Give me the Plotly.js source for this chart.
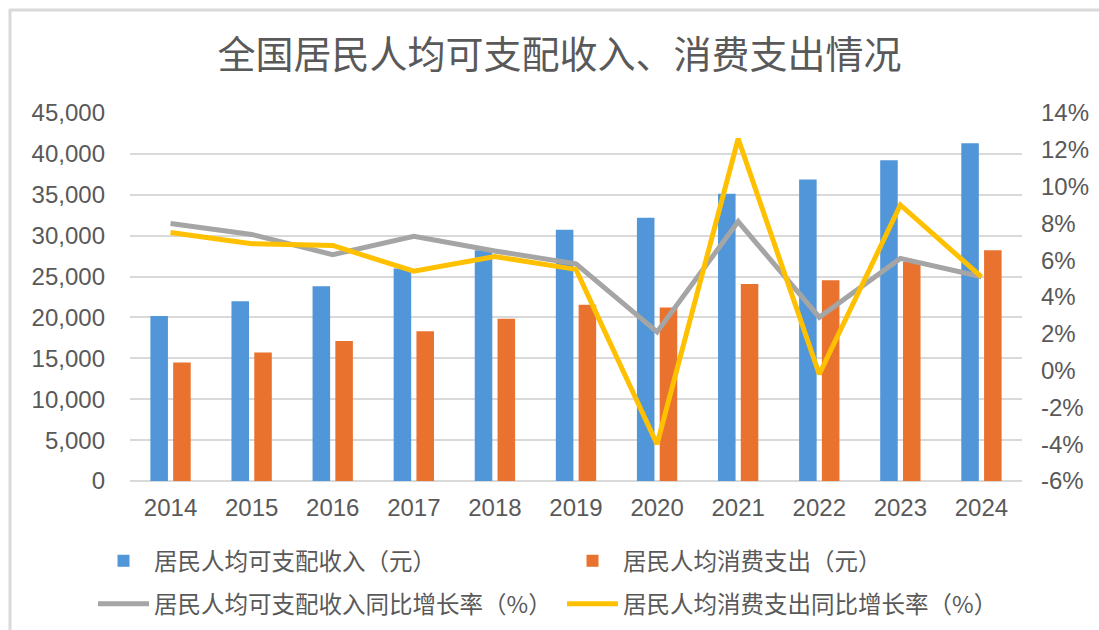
<!DOCTYPE html>
<html>
<head>
<meta charset="utf-8">
<script src="https://cdn.plot.ly/plotly-3.0.1.min.js"></script>
<style>html,body{margin:0;padding:0;background:#fff;}#chart{width:1099px;height:630px;}</style>
</head>
<body>
<div id="chart"></div>
<script>
const years = ['2014','2015','2016','2017','2018','2019','2020','2021','2022','2023','2024'];
const income = [20167, 21966, 23821, 25974, 28228, 30733, 32189, 35128, 36883, 39218, 41314];
const consumption = [14491, 15712, 17111, 18322, 19853, 21559, 21210, 24100, 24538, 26796, 28227];
const incomeGrowth = [8.0, 7.4, 6.3, 7.3, 6.5, 5.8, 2.1, 8.1, 2.9, 6.1, 5.1];
const consumptionGrowth = [7.5, 6.9, 6.8, 5.4, 6.2, 5.5, -4.0, 12.6, -0.2, 9.0, 5.1];
const seriesNames = ['居民人均可支配收入（元）', '居民人均消费支出（元）', '居民人均可支配收入同比增长率（%）', '居民人均消费支出同比增长率（%）'];
const titleText = '全国居民人均可支配收入、消费支出情况';
const y2TickVals = [-6, -4, -2, 0, 2, 4, 6, 8, 10, 12, 14];
const y2TickText = ['-6%', '-4%', '-2%', '0%', '2%', '4%', '6%', '8%', '10%', '12%', '14%'];

const W = 1099, H = 630, L = 130, R = 77, T = 113, B = 149;
const pw = W - L - R, ph = H - T - B;
const px = v => (v - L) / pw;
const py = v => (H - B - v) / ph;

const cjk = '"Noto Sans CJK SC", "Noto Sans", sans-serif';
const num = 'Arial, "Liberation Sans", sans-serif';
const txt = '#595959';

const traces = [
  {type: 'bar', name: seriesNames[0], x: years, y: income, marker: {color: '#5096D9'}, legend: 'legend'},
  {type: 'bar', name: seriesNames[1], x: years, y: consumption, marker: {color: '#E9722F'}, legend: 'legend'},
  {type: 'scatter', mode: 'lines', name: seriesNames[2], x: years, y: incomeGrowth, yaxis: 'y2', line: {color: '#A5A5A5', width: 5}, legend: 'legend2'},
  {type: 'scatter', mode: 'lines', name: seriesNames[3], x: years, y: consumptionGrowth, yaxis: 'y2', line: {color: '#FFC000', width: 5}, legend: 'legend2'}
];

const legendCommon = {orientation: 'h', xanchor: 'left', yanchor: 'middle', itemwidth: 51, entrywidth: 403, entrywidthmode: 'pixels',
  font: {family: cjk, size: 23.5, color: txt}, bgcolor: 'rgba(0,0,0,0)', traceorder: 'normal', borderwidth: 0};

const layout = {
  width: W, height: H,
  margin: {l: L, r: R, t: T, b: B, pad: 0, autoexpand: false},
  paper_bgcolor: '#ffffff', plot_bgcolor: 'rgba(0,0,0,0)',
  title: {text: titleText, font: {family: cjk, size: 38, color: txt}, x: 0.509, xanchor: 'center', y: 1 - 55 / H, yanchor: 'middle'},
  barmode: 'group', bargap: 0.438, bargroupgap: 0.23,
  xaxis: {type: 'category', showgrid: false, showline: false, zeroline: false, ticks: '',
    tickfont: {family: num, size: 24, color: txt}, ticklabelstandoff: 10},
  yaxis: {range: [0, 45000], dtick: 5000, tick0: 0, tickformat: ',d', showgrid: true, gridcolor: '#D9D9D9', gridwidth: 2,
    zeroline: true, zerolinecolor: '#D9D9D9', zerolinewidth: 2, showline: false, ticks: '',
    tickfont: {family: num, size: 24, color: txt}, ticklabelstandoff: 24, fixedrange: true},
  yaxis2: {overlaying: 'y', side: 'right', range: [-6, 14], tickmode: 'array', tickvals: y2TickVals, ticktext: y2TickText,
    showgrid: false, zeroline: false, showline: false, ticks: '',
    tickfont: {family: num, size: 24, color: txt}, ticklabelstandoff: 18},
  legend: Object.assign({}, legendCommon, {x: px(93), y: py(561)}),
  legend2: Object.assign({}, legendCommon, {x: px(93), y: py(604)}),
  shapes: [
    {type: 'line', xref: 'paper', yref: 'paper', x0: px(9), x1: px(1099), y0: py(10), y1: py(10), line: {color: '#D9D9D9', width: 3}},
    {type: 'line', xref: 'paper', yref: 'paper', x0: px(10), x1: px(10), y0: py(9), y1: py(630), line: {color: '#D9D9D9', width: 3}}
  ],
  showlegend: true
};

Plotly.newPlot('chart', traces, layout, {displayModeBar: false, staticPlot: true});
</script>
</body>
</html>
